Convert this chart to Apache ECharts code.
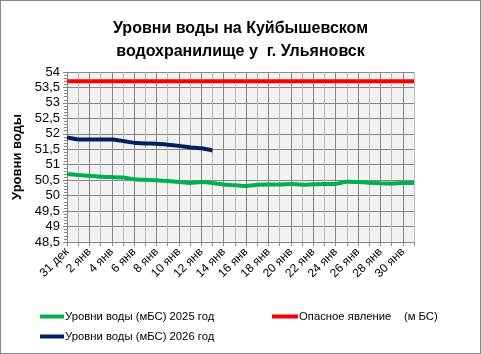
<!DOCTYPE html>
<html><head><meta charset="utf-8">
<script src="https://cdn.jsdelivr.net/npm/echarts@6/dist/echarts.min.js"></script>
<style>html,body{margin:0;padding:0;background:#fff}#c{width:481px;height:354px;box-sizing:border-box;border:1px solid #868686}</style>
</head><body><div id="c"></div>
<script>
const categories = ['31 дек','1 янв','2 янв','3 янв','4 янв','5 янв','6 янв','7 янв','8 янв','9 янв','10 янв','11 янв','12 янв','13 янв','14 янв','15 янв','16 янв','17 янв','18 янв','19 янв','20 янв','21 янв','22 янв','23 янв','24 янв','25 янв','26 янв','27 янв','28 янв','29 янв','30 янв','31 янв'];
const levels2025 = [50.70,50.67,50.64,50.61,50.60,50.59,50.53,50.51,50.50,50.47,50.44,50.41,50.44,50.41,50.36,50.34,50.31,50.35,50.36,50.36,50.38,50.35,50.37,50.38,50.38,50.45,50.44,50.42,50.40,50.39,50.41,50.41];
const levels2026 = [51.88,51.82,51.82,51.82,51.82,51.77,51.71,51.69,51.68,51.65,51.61,51.56,51.53,51.46];
const dangerLevel = 53.7;
const dangerLine = categories.map(() => dangerLevel);
const yTicks = {min: 48.5, max: 54, step: 0.5};
const names = ['Уровни воды (мБС) 2025 год','Уровни воды (мБС) 2026 год','Опасное явление    (м БС)'];

const F = 'Liberation Sans, Arial, sans-serif';
const chart = echarts.init(document.getElementById('c'), null, {renderer:'canvas'});
chart.setOption({
  animation:false,
  title:{text:'Уровни воды на Куйбышевском\nводохранилище у  г. Ульяновск',left:'center',top:11,
    textStyle:{fontFamily:F,fontWeight:'bold',fontSize:16,color:'#000',lineHeight:23}},
  grid:{left:66,right:66,top:71,bottom:111,show:true,backgroundColor:'#f2f2f2',borderWidth:0},
  legend:[
    {data:[names[0],names[1]],orient:'vertical',left:34,top:305,itemWidth:24,itemHeight:4,itemGap:9,icon:'rect',
     textStyle:{fontFamily:F,fontSize:11.3,color:'#000',padding:[0,0,0,-4]}},
    {data:[names[2]],left:266,top:305,itemWidth:26,itemHeight:4,icon:'rect',
     textStyle:{fontFamily:F,fontSize:11.3,color:'#000',padding:[0,0,0,-4]}}
  ],
  xAxis:{type:'category',data:categories,boundaryGap:false,
    axisLine:{lineStyle:{color:'#868686'}},
    axisTick:{show:true,interval:0,length:4,lineStyle:{color:'#868686'}},
    axisLabel:{interval:1,rotate:45,fontFamily:F,fontSize:12,color:'#000',margin:8},
    splitLine:{show:true,interval:0,lineStyle:{color:['#868686','#b8b8b8'],width:1}}},
  yAxis:{type:'value',min:yTicks.min,max:yTicks.max,interval:yTicks.step,
    name:'Уровни воды',nameLocation:'middle',nameGap:42,nameRotate:90,
    nameTextStyle:{fontFamily:F,fontWeight:'bold',fontSize:13,color:'#000'},
    axisLine:{show:true,lineStyle:{color:'#868686'}},
    axisTick:{show:true,length:4,lineStyle:{color:'#868686'}},
    minorTick:{show:true,splitNumber:5,length:3,lineStyle:{color:'#868686'}},
    axisLabel:{fontFamily:F,fontSize:13,color:'#000',margin:7,formatter:v=>String(v).replace('.',',')},
    splitLine:{show:true,lineStyle:{color:'#868686',width:1}}},
  series:[
    {name:names[2],type:'line',data:dangerLine,symbol:'none',lineStyle:{color:'#ff0000',width:4},itemStyle:{color:'#ff0000'}},
    {name:names[0],type:'line',data:levels2025,symbol:'none',smooth:0.2,lineStyle:{color:'#00b050',width:4},itemStyle:{color:'#00b050'}},
    {name:names[1],type:'line',data:levels2026,symbol:'none',smooth:0.2,lineStyle:{color:'#002060',width:4},itemStyle:{color:'#002060'}}
  ]
});
</script></body></html>
